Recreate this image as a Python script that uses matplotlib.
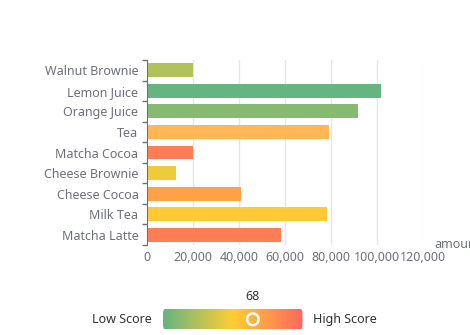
import numpy as np
import matplotlib
matplotlib.use("Agg")
import matplotlib.pyplot as plt
from matplotlib.colors import LinearSegmentedColormap, Normalize, to_rgb
from matplotlib.patches import FancyBboxPatch

products = ['Matcha Latte', 'Milk Tea', 'Cheese Cocoa', 'Cheese Brownie', 'Matcha Cocoa',
            'Tea', 'Orange Juice', 'Lemon Juice', 'Walnut Brownie']
amounts = [58212, 78254, 41032, 12755, 20145, 79146, 91852, 101852, 20112]
scores = [89.3, 57.1, 74.4, 50.1, 89.7, 68.1, 19.6, 10.6, 32.7]
highlighted = 'Tea'
x_ticks = [0, 20000, 40000, 60000, 80000, 100000, 120000]
vm_min, vm_max = 10, 100
vm_colors = ['#65B581', '#FFCE34', '#FD665F']
handle_value = 68

plt.rcParams['font.family'] = ['Noto Sans', 'DejaVu Sans']
W, H = 470, 335
fig = plt.figure(figsize=(W / 100, H / 100), dpi=100)

cmap = LinearSegmentedColormap.from_list('vm', vm_colors)
norm = Normalize(vm_min, vm_max)

def bar_color(p, s):
    c = np.array(to_rgb(cmap(norm(s))))
    if p == highlighted:
        c = c * 0.9 + 0.1
    return tuple(c)

L, R, T, B = 146.5, 423.3, 60, 245
ax = fig.add_axes([L / W, 1 - B / H, (R - L) / W, (B - T) / H])
y = np.arange(len(products))
ax.barh(y, amounts, height=0.68, color=[bar_color(p, s) for p, s in zip(products, scores)], zorder=3)
ax.set_xlim(0, 120000)
ax.set_ylim(-0.5, len(products) - 0.5)
ax.set_xticks(x_ticks)
ax.set_xticklabels([f"{v:,}" for v in x_ticks])
ax.set_yticks(y)
ax.set_yticklabels(products)
ax.set_yticks(np.arange(-0.5, len(products)), minor=True)
ax.grid(axis='x', color='#E0E6F1', linewidth=1, zorder=0)
for s in ['top', 'right', 'bottom']:
    ax.spines[s].set_visible(False)
ax.spines['left'].set_color('#6E7079')
ax.spines['left'].set_zorder(5)
ax.tick_params(axis='y', which='major', length=0, pad=5.8, labelsize=9, labelcolor='#6E7079')
ax.tick_params(axis='y', which='minor', length=3.6, color='#6E7079', width=1)
ax.tick_params(axis='x', length=0, pad=4, labelsize=9, labelcolor='#6E7079')
ax.annotate('amount', xy=(1, 0), xycoords='axes fraction', xytext=(11, 0),
            textcoords='offset pixels', ha='left', va='center', fontsize=9, color='#6E7079',
            annotation_clip=False)

# visual map
cx0, cx1, cy0, cy1 = 163, 302.5, 309, 329.5
cax = fig.add_axes([cx0 / W, 1 - cy1 / H, (cx1 - cx0) / W, (cy1 - cy0) / H])
grad = np.linspace(vm_min, vm_max, 256).reshape(1, -1)
im = cax.imshow(grad, cmap=cmap, norm=norm, aspect='auto', extent=(vm_min, vm_max, 0, 1))
clip = FancyBboxPatch((vm_min, 0), vm_max - vm_min, 1, boxstyle='round,pad=0,rounding_size=1.2',
                      transform=cax.transData, facecolor='none', edgecolor='none',
                      mutation_aspect=1 / 4.5)
cax.add_patch(clip)
im.set_clip_path(clip)
cax.set_xlim(vm_min, vm_max)
cax.set_ylim(0, 1)
cax.axis('off')
cax.scatter([handle_value], [0.5], s=70, facecolor='none', edgecolor='white',
            linewidth=1.8, zorder=5, clip_on=False)
fig.text(cx0 / W + (handle_value - vm_min) / (vm_max - vm_min) * (cx1 - cx0) / W, 1 - 297 / H,
         str(handle_value), ha='center', va='center', fontsize=9, color='#333333')
fig.text(152 / W, 1 - 319.5 / H, 'Low Score', ha='right', va='center', fontsize=9, color='#333333')
fig.text(313 / W, 1 - 319.5 / H, 'High Score', ha='left', va='center', fontsize=9, color='#333333')

fig.savefig('out.png', dpi=100)
